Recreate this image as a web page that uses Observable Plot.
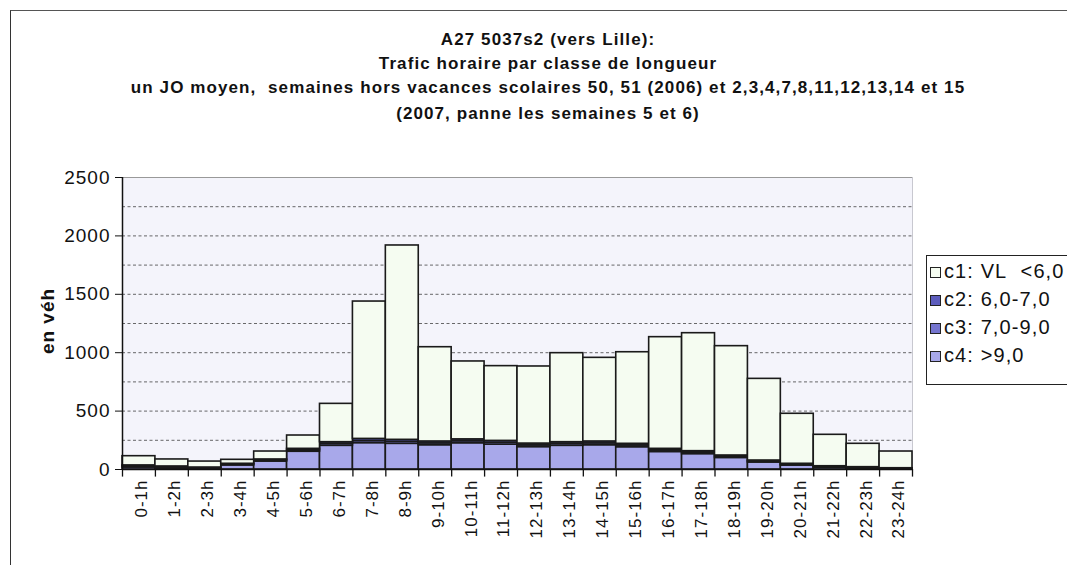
<!DOCTYPE html>
<html>
<head>
<meta charset="utf-8">
<script src="https://cdn.jsdelivr.net/npm/d3@7"></script>
<script src="https://cdn.jsdelivr.net/npm/@observablehq/plot@0.6"></script>
<style>
  html, body { margin: 0; padding: 0; background: #fff; }
  #wrap { position: relative; width: 1067px; height: 565px; overflow: hidden; font-family: "Liberation Sans", Arial, sans-serif; }
  #border { position: absolute; left: 10px; top: 10px; width: 1100px; height: 600px; border-left: 1.5px solid #333; border-top: 1.5px solid #555; box-sizing: border-box; }
  .t { position: absolute; left: 0; width: 1096px; text-align: center; font-weight: bold; font-size: 17px; color: #111; letter-spacing: 1.1px; line-height: 20px; }
  #ylab { position: absolute; left: 48px; top: 321px; transform: translate(-50%, -50%) rotate(-90deg); font-weight: bold; font-size: 19px; letter-spacing: 1px; color: #111; white-space: nowrap; }
  #legend { position: absolute; left: 926px; top: 255px; width: 160px; height: 130px; border: 1.5px solid #222; background: #fff; box-sizing: border-box; }
  .li { position: absolute; left: 3px; font-size: 20px; letter-spacing: 1.1px; color: #111; white-space: nowrap; line-height: 22px; }
  .sw { display: inline-block; width: 11px; height: 11px; border: 1.3px solid #222; margin-right: 3px; vertical-align: 0px; box-sizing: border-box; }
  #chart { position: absolute; left: 0; top: 0; }
  #chart svg text { letter-spacing: 1px; }
</style>
</head>
<body>
<div id="wrap">
  <div id="chart"></div>
  <div id="border"></div>
  <div class="t" style="top:30px">A27 5037s2 (vers Lille):</div>
  <div class="t" style="top:54px">Trafic horaire par classe de longueur</div>
  <div class="t" style="top:78px">un JO moyen,&nbsp; semaines hors vacances scolaires 50, 51 (2006) et 2,3,4,7,8,11,12,13,14 et 15</div>
  <div class="t" style="top:104px">(2007, panne les semaines 5 et 6)</div>
  <div id="ylab">en véh</div>
  <div id="legend"></div>
</div>
<script>
const hours = ["0-1h","1-2h","2-3h","3-4h","4-5h","5-6h","6-7h","7-8h","8-9h","9-10h","10-11h","11-12h","12-13h","13-14h","14-15h","15-16h","16-17h","17-18h","18-19h","19-20h","20-21h","21-22h","22-23h","23-24h"];
const classes = ["c1","c2","c3","c4"];
const classLabels = ["c1: VL  <6,0","c2: 6,0-7,0","c3: 7,0-9,0","c4: >9,0"];
const c1 = [79, 60, 51, 34, 68, 114, 328, 1176, 1664, 807, 667, 640, 660, 762, 716, 784, 956, 1010, 936, 699, 428, 269, 200, 143];
const c2 = [8, 6, 5, 6, 8, 12, 15, 18, 17, 16, 16, 16, 15, 15, 16, 14, 13, 12, 10, 8, 7, 6, 5, 4];
const c3 = [10, 8, 6, 8, 10, 13, 16, 18, 17, 16, 17, 16, 15, 16, 16, 15, 14, 13, 11, 9, 8, 7, 6, 4];
const c4 = [17, 12, 6, 35, 68, 152, 203, 226, 220, 208, 225, 213, 192, 203, 208, 191, 150, 132, 99, 60, 34, 15, 9, 3];
const yTicks = [0, 500, 1000, 1500, 2000, 2500];
const yMinorTicks = [250, 750, 1250, 1750, 2250];
const gridValues = [250, 500, 750, 1000, 1250, 1500, 1750, 2000, 2250];
const colors = ["#f5fcf1", "#5d5dbd", "#7575cf", "#a8a8ea"];

const series = {c1, c2, c3, c4};
const stackOrder = ["c4","c3","c2","c1"];
const rows = [];
for (const c of stackOrder) hours.forEach((h, i) => rows.push({hour: h, cls: c, value: series[c][i]}));

const W = 1067, H = 565, ML = 122, MR = 155, MT = 177, MB = 96;
const bw = (W - ML - MR) / hours.length;

const chart = Plot.plot({
  width: W, height: H,
  marginLeft: ML, marginRight: MR, marginTop: MT, marginBottom: MB,
  style: {fontFamily: "'Liberation Sans', Arial, sans-serif", background: "transparent", color: "#111"},
  x: {domain: hours, padding: 0, round: false, label: null, axis: null},
  y: {domain: [0, 2500], label: null, axis: null},
  color: {domain: classes, range: colors},
  marks: [
    Plot.frame({fill: "#f4f4fb", stroke: "#c8c8d0"}),
    Plot.ruleY(gridValues, {stroke: "#444", strokeDasharray: "3,2.5", strokeWidth: 1, strokeOpacity: 0.8}),
    Plot.ruleY([2500], {stroke: "#999", strokeWidth: 1}),
    Plot.barY(rows, {x: "hour", y: "value", fill: "cls", order: stackOrder, stroke: "#1a1a1a", strokeWidth: 1.6}),
    Plot.ruleY([0], {stroke: "#111", strokeWidth: 1.5}),
    Plot.ruleX([hours[0]], {dx: -bw / 2, y1: 0, y2: 2500, stroke: "#111", strokeWidth: 1.5}),
    Plot.ruleX(hours, {dx: -bw / 2, y1: 0, y2: -65, stroke: "#111", strokeWidth: 1.3}),
    Plot.ruleX([hours[hours.length - 1]], {dx: bw / 2, y1: 0, y2: -65, stroke: "#111", strokeWidth: 1.3}),
    Plot.axisY({ticks: yTicks, tickSize: 7, tickPadding: 5, fontSize: 19, tickFormat: d => String(d)}),
    Plot.tickY(yMinorTicks, {y: d => d, x: hours[0], dx: -bw / 2 + 2.5, insetLeft: 0, insetRight: bw - 5, strokeWidth: 1.2, stroke: "#111"}),
    Plot.axisX({tickSize: 0, tickRotate: -90, tickPadding: 10, fontSize: 17, dx: 3})
  ]
});
document.getElementById("chart").appendChild(chart);

const leg = document.getElementById("legend");
classes.forEach((c, i) => {
  const d = document.createElement("div");
  d.className = "li";
  d.style.top = (4 + i * 28) + "px";
  d.innerHTML = `<span class="sw" style="background:${colors[i]}"></span>` + classLabels[i].replace("  ", "&nbsp; ");
  leg.appendChild(d);
});
</script>
</body>
</html>
